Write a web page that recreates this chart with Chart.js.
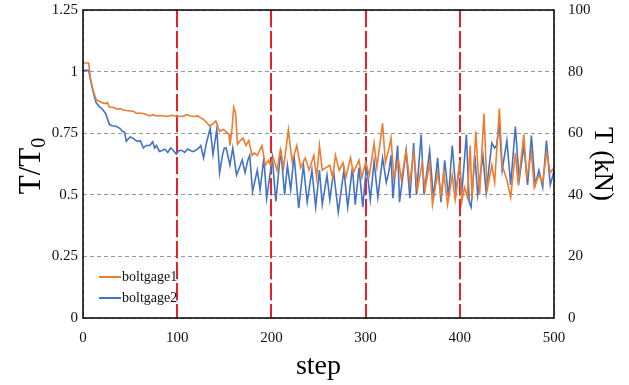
<!DOCTYPE html>
<html>
<head>
<meta charset="utf-8">
<script src="https://cdn.jsdelivr.net/npm/chart.js@4/dist/chart.umd.min.js"></script>
<style>
html,body{margin:0;padding:0;background:#fff;}
#wrap{width:629px;height:385px;}
</style>
</head>
<body>
<div id="wrap"><canvas id="c" width="629" height="385"></canvas></div>
<script>
// ---- data ----
const seriesNames = ['boltgage1', 'boltgage2'];
const boltgage1Steps = [0,6,8,11,14,17,21,24,26,28,32,36,40,42,46,50,54,57,60,64,67,71,74,78,82,86,90,94,98,102,106,110,114,118,122,126,128,131,134,137,141,145,149,152,155,156,158,160,162,164,167,170,173,176,179.5,182,185,190,193.5,197,199,202,206,209.5,213,218,222,227,231,236,240,245,248,251,254,258,262,265,268,272,276,279,284,287,293,296,300,304,309,312,318,321,324,327,330,335,338,343,347,351,355,360,363,368,371,376.5,380,383,387,392,395,400,402,405,408,411,413,417,421,425.6,429,434,437,442,445,450,454,459,462,468,471,476,479,484,488,492,496,500];
const boltgage1Values = [1.035,1.035,0.97,0.92,0.886,0.88,0.873,0.87,0.875,0.856,0.855,0.848,0.85,0.845,0.842,0.84,0.838,0.83,0.832,0.83,0.826,0.82,0.825,0.82,0.822,0.82,0.818,0.823,0.82,0.82,0.818,0.825,0.82,0.818,0.82,0.81,0.805,0.795,0.78,0.785,0.80,0.757,0.765,0.755,0.745,0.70,0.76,0.855,0.83,0.705,0.72,0.73,0.70,0.72,0.66,0.67,0.66,0.70,0.62,0.64,0.62,0.65,0.60,0.683,0.61,0.764,0.635,0.70,0.61,0.65,0.60,0.66,0.57,0.70,0.60,0.61,0.62,0.57,0.66,0.60,0.63,0.57,0.65,0.59,0.64,0.57,0.63,0.58,0.71,0.61,0.79,0.63,0.675,0.73,0.57,0.64,0.56,0.68,0.55,0.67,0.52,0.63,0.52,0.63,0.46,0.59,0.50,0.59,0.46,0.58,0.48,0.64,0.47,0.53,0.49,0.70,0.48,0.757,0.50,0.83,0.52,0.62,0.55,0.85,0.62,0.56,0.49,0.67,0.54,0.745,0.57,0.67,0.53,0.58,0.55,0.67,0.59,0.61];
const boltgage2Steps = [0,6,9,12,14,17,21,24,28,31,35,39,42,44,46,50,53,56,58,61,64,67,71,74,76,78,81,84,87,90,93,96,99,102,105,108,111,114,117,120,123,125,128,131,135,138,142,145,148,150,152,156,159,163,167,169,172,175,177,180,185,188,192,195,201,204.7,210,214,217,220.5,224,229,234,238,243,247,251,254,259,262,266,271,277,281,286,289,293,297,301,305,309,313,318,322,325,327,329,334,336,343,347,351,354,359,362,368,372,376.5,380,384,388,392,396,400,402,407,410,412,416,419,424.5,428,434,437,439,442,445,450,454,459,463,468,472,476,480,484,488,492,496,499,500];
const boltgage2Values = [1.005,1.005,0.947,0.90,0.873,0.86,0.845,0.83,0.785,0.78,0.778,0.77,0.757,0.755,0.717,0.735,0.73,0.72,0.717,0.72,0.69,0.70,0.70,0.715,0.69,0.70,0.676,0.68,0.685,0.672,0.69,0.68,0.665,0.68,0.68,0.672,0.686,0.68,0.675,0.682,0.69,0.70,0.65,0.71,0.77,0.663,0.765,0.588,0.66,0.69,0.69,0.62,0.69,0.58,0.62,0.642,0.59,0.64,0.66,0.513,0.60,0.52,0.65,0.486,0.65,0.473,0.683,0.50,0.62,0.52,0.66,0.446,0.62,0.47,0.60,0.45,0.60,0.46,0.58,0.48,0.595,0.43,0.60,0.45,0.61,0.46,0.61,0.45,0.62,0.48,0.635,0.49,0.65,0.55,0.60,0.66,0.486,0.70,0.47,0.68,0.486,0.71,0.50,0.744,0.50,0.68,0.486,0.65,0.47,0.64,0.49,0.70,0.51,0.63,0.50,0.744,0.47,0.45,0.66,0.50,0.66,0.51,0.71,0.69,0.70,0.785,0.60,0.72,0.54,0.777,0.56,0.70,0.54,0.74,0.54,0.60,0.53,0.72,0.54,0.58,0.60];
const markerSteps = [100, 200, 300, 400];
const xTickLabels = ['0','100','200','300','400','500'];
const leftTickLabels = ['0','0.25','0.5','0.75','1','1.25'];
const rightTickLabels = ['0','20','40','60','80','100'];

const COLORS = ['#ED7D31', '#4472C4'];
const SERIF = "'Liberation Serif', 'Times New Roman', serif";

function pts(xs, ys){ return xs.map((x,i)=>({x:x, y:ys[i]})); }

const framePlugin = {
  id: 'frameAndExtras',
  beforeDatasetsDraw(chart){
    const ctx = chart.ctx, xs = chart.scales.x, a = chart.chartArea;
    ctx.save();
    ctx.strokeStyle = '#E8212B';
    ctx.lineWidth = 2;
    ctx.setLineDash([17,4]);
    markerSteps.forEach(s=>{
      const px = Math.round(xs.getPixelForValue(s));
      ctx.beginPath(); ctx.moveTo(px, a.top); ctx.lineTo(px, a.bottom); ctx.stroke();
    });
    ctx.restore();
  },
  afterDraw(chart){
    const ctx = chart.ctx, a = chart.chartArea;
    ctx.save();
    ctx.strokeStyle = '#000'; ctx.lineWidth = 1.5; ctx.setLineDash([]);
    ctx.strokeRect(a.left, a.top, a.right - a.left, a.bottom - a.top);
    // left axis title with subscript
    ctx.fillStyle = '#000';
    ctx.translate(30, (a.top + a.bottom) / 2 + 2);
    ctx.rotate(-Math.PI/2);
    ctx.textBaseline = 'alphabetic';
    const main = 'T/T';
    ctx.font = "31px " + SERIF;
    const w1 = ctx.measureText(main).width;
    ctx.font = "20px " + SERIF;
    const w2 = ctx.measureText('0').width;
    const total = w1 + w2;
    ctx.font = "31px " + SERIF;
    ctx.fillText(main, -total/2, 10);
    ctx.font = "20px " + SERIF;
    ctx.fillText('0', -total/2 + w1, 15);
    ctx.restore();
    // legend inside plot
    ctx.save();
    ctx.font = "14px " + SERIF;
    ctx.textBaseline = 'middle';
    chart.data.datasets.forEach((ds,i)=>{
      const y = 277 + i*21;
      ctx.strokeStyle = ds.borderColor; ctx.lineWidth = 2;
      ctx.beginPath(); ctx.moveTo(99, y); ctx.lineTo(121, y); ctx.stroke();
      ctx.fillStyle = '#111';
      ctx.fillText(ds.label, 122, y);
    });
    ctx.restore();
  }
};

new Chart(document.getElementById('c'), {
  type: 'line',
  data: {
    datasets: [
      {label: seriesNames[0], data: pts(boltgage1Steps, boltgage1Values), borderColor: COLORS[0], backgroundColor: COLORS[0], borderWidth: 1.6, pointRadius: 0, tension: 0, yAxisID: 'y'},
      {label: seriesNames[1], data: pts(boltgage2Steps, boltgage2Values), borderColor: COLORS[1], backgroundColor: COLORS[1], borderWidth: 1.6, pointRadius: 0, tension: 0, yAxisID: 'y'}
    ]
  },
  options: {
    responsive: false,
    animation: false,
    layout: {padding: {top: 10, left: 0, right: 0, bottom: 0}},
    plugins: {legend: {display: false}, tooltip: {enabled: false}},
    scales: {
      x: {
        type: 'linear', min: 0, max: 500,
        afterBuildTicks(s){ s.ticks = xTickLabels.map(v=>({value: Number(v)})); },
        afterFit(s){ s.height = 67; s.paddingLeft = 0; s.paddingRight = 0; },
        ticks: {callback: (v,i)=>xTickLabels[i], font: {family: SERIF, size: 15}, color: '#111', padding: 11, maxRotation: 0},
        grid: {color: '#9a9a9a', lineWidth: 1, drawTicks: false},
        border: {display: false, dash: [4,3]},
        title: {display: true, text: 'step', font: {family: SERIF, size: 28}, color: '#000', padding: {top: 0, bottom: 2}}
      },
      y: {
        type: 'linear', position: 'left', min: 0, max: 1.25,
        afterBuildTicks(s){ s.ticks = leftTickLabels.map(v=>({value: Number(v)})); },
        afterFit(s){ s.width = 83; s.paddingTop = 0; s.paddingBottom = 0; },
        ticks: {callback: (v,i)=>leftTickLabels[i], font: {family: SERIF, size: 15}, color: '#111', padding: 5},
        grid: {color: '#9a9a9a', lineWidth: 1, drawTicks: false},
        border: {display: false, dash: [4,3]}
      },
      y2: {
        type: 'linear', position: 'right', min: 0, max: 100,
        afterBuildTicks(s){ s.ticks = rightTickLabels.map(v=>({value: Number(v)})); },
        afterFit(s){ s.width = 75; s.paddingTop = 0; s.paddingBottom = 0; },
        ticks: {callback: (v,i)=>rightTickLabels[i], font: {family: SERIF, size: 15}, color: '#111', padding: 14},
        grid: {display: false, drawTicks: false},
        border: {display: false},
        title: {display: true, text: 'T (kN)', font: {family: SERIF, size: 27}, color: '#000', padding: {top: 11, bottom: 0}}
      }
    }
  },
  plugins: [framePlugin]
});
</script>
</body>
</html>
